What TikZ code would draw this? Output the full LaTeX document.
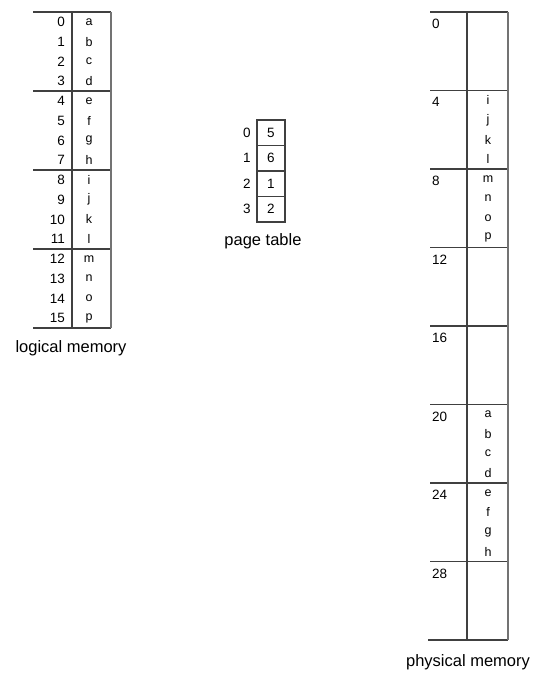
\documentclass[tikz,border=0pt]{standalone}
\usepackage{fontspec}
\setmainfont{Liberation Sans}
\begin{document}
\begin{tikzpicture}[x=1pt,y=-1pt,
  memline/.style={draw=black!75,line width=1.1pt},
  numtxt/.style={font=\fontsize{13.5}{14}\selectfont,inner sep=0pt},
  lettxt/.style={font=\fontsize{12.5}{13}\selectfont,inner sep=0pt},
  lbltxt/.style={font=\fontsize{16.5}{17}\selectfont,inner sep=0pt}]
\useasboundingbox (0,0) rectangle (533,673);
% ---------- logical memory ----------
\foreach \k in {0,...,4} \draw[memline] (33,{12+79*\k}) -- (111,{12+79*\k});
\draw[memline] (72,12) -- (72,328);
\draw[memline,draw=black!55] (111,12) -- (111,328);
\foreach \i/\l in {0/a,1/b,2/c,3/d,4/e,5/f,6/g,7/h,8/i,9/j,10/k,11/l,12/m,13/n,14/o,15/p}{
  \node[numtxt,anchor=east] (ln\i) at (65,{12+19.75*(\i+0.5)}) {\i};
  \node[lettxt] (ll\i) at (89,{12+19.75*(\i+0.5)}) {\l};
}
\node[lbltxt] (loglbl) at (71,348) {logical memory};
% ---------- page table ----------
\draw[memline] (257,120) rectangle (285,222);
\foreach \k in {1,2,3} \draw[memline] (257,{120+25.5*\k}) -- (285,{120+25.5*\k});
\foreach \i/\v in {0/5,1/6,2/1,3/2}{
  \node[numtxt] (pi\i) at (247,{120+25.5*(\i+0.5)}) {\i};
  \node[numtxt] (pv\i) at (271,{120+25.5*(\i+0.5)}) {\v};
}
\node[lbltxt] (ptlbl) at (263,241) {page table};
% ---------- physical memory ----------
\foreach \k in {0,...,7} \draw[memline] (430,{12+78.5*\k}) -- (508,{12+78.5*\k});
\draw[memline] (428,640) -- (508,640);
\draw[memline] (467,12) -- (467,640);
\draw[memline,draw=black!55] (508,12) -- (508,640);
\foreach \k in {0,...,7}{
  \pgfmathtruncatemacro{\addr}{4*\k}
  \node[numtxt,anchor=north west] (fa\k) at (432,{12+78.5*\k+7}) {\addr};
}
\foreach \f/\a/\b/\c/\d in {1/i/j/k/l,2/m/n/o/p,5/a/b/c/d,6/e/f/g/h}{
  \foreach \q/\l in {0/\a,1/\b,2/\c,3/\d}{
    \node[lettxt] (pl\f\q) at (488,{12+78.5*\f+19.6*(\q+0.5)}) {\l};
  }
}
\node[lbltxt] (phylbl) at (468,662) {physical memory};
\end{tikzpicture}
\end{document}
